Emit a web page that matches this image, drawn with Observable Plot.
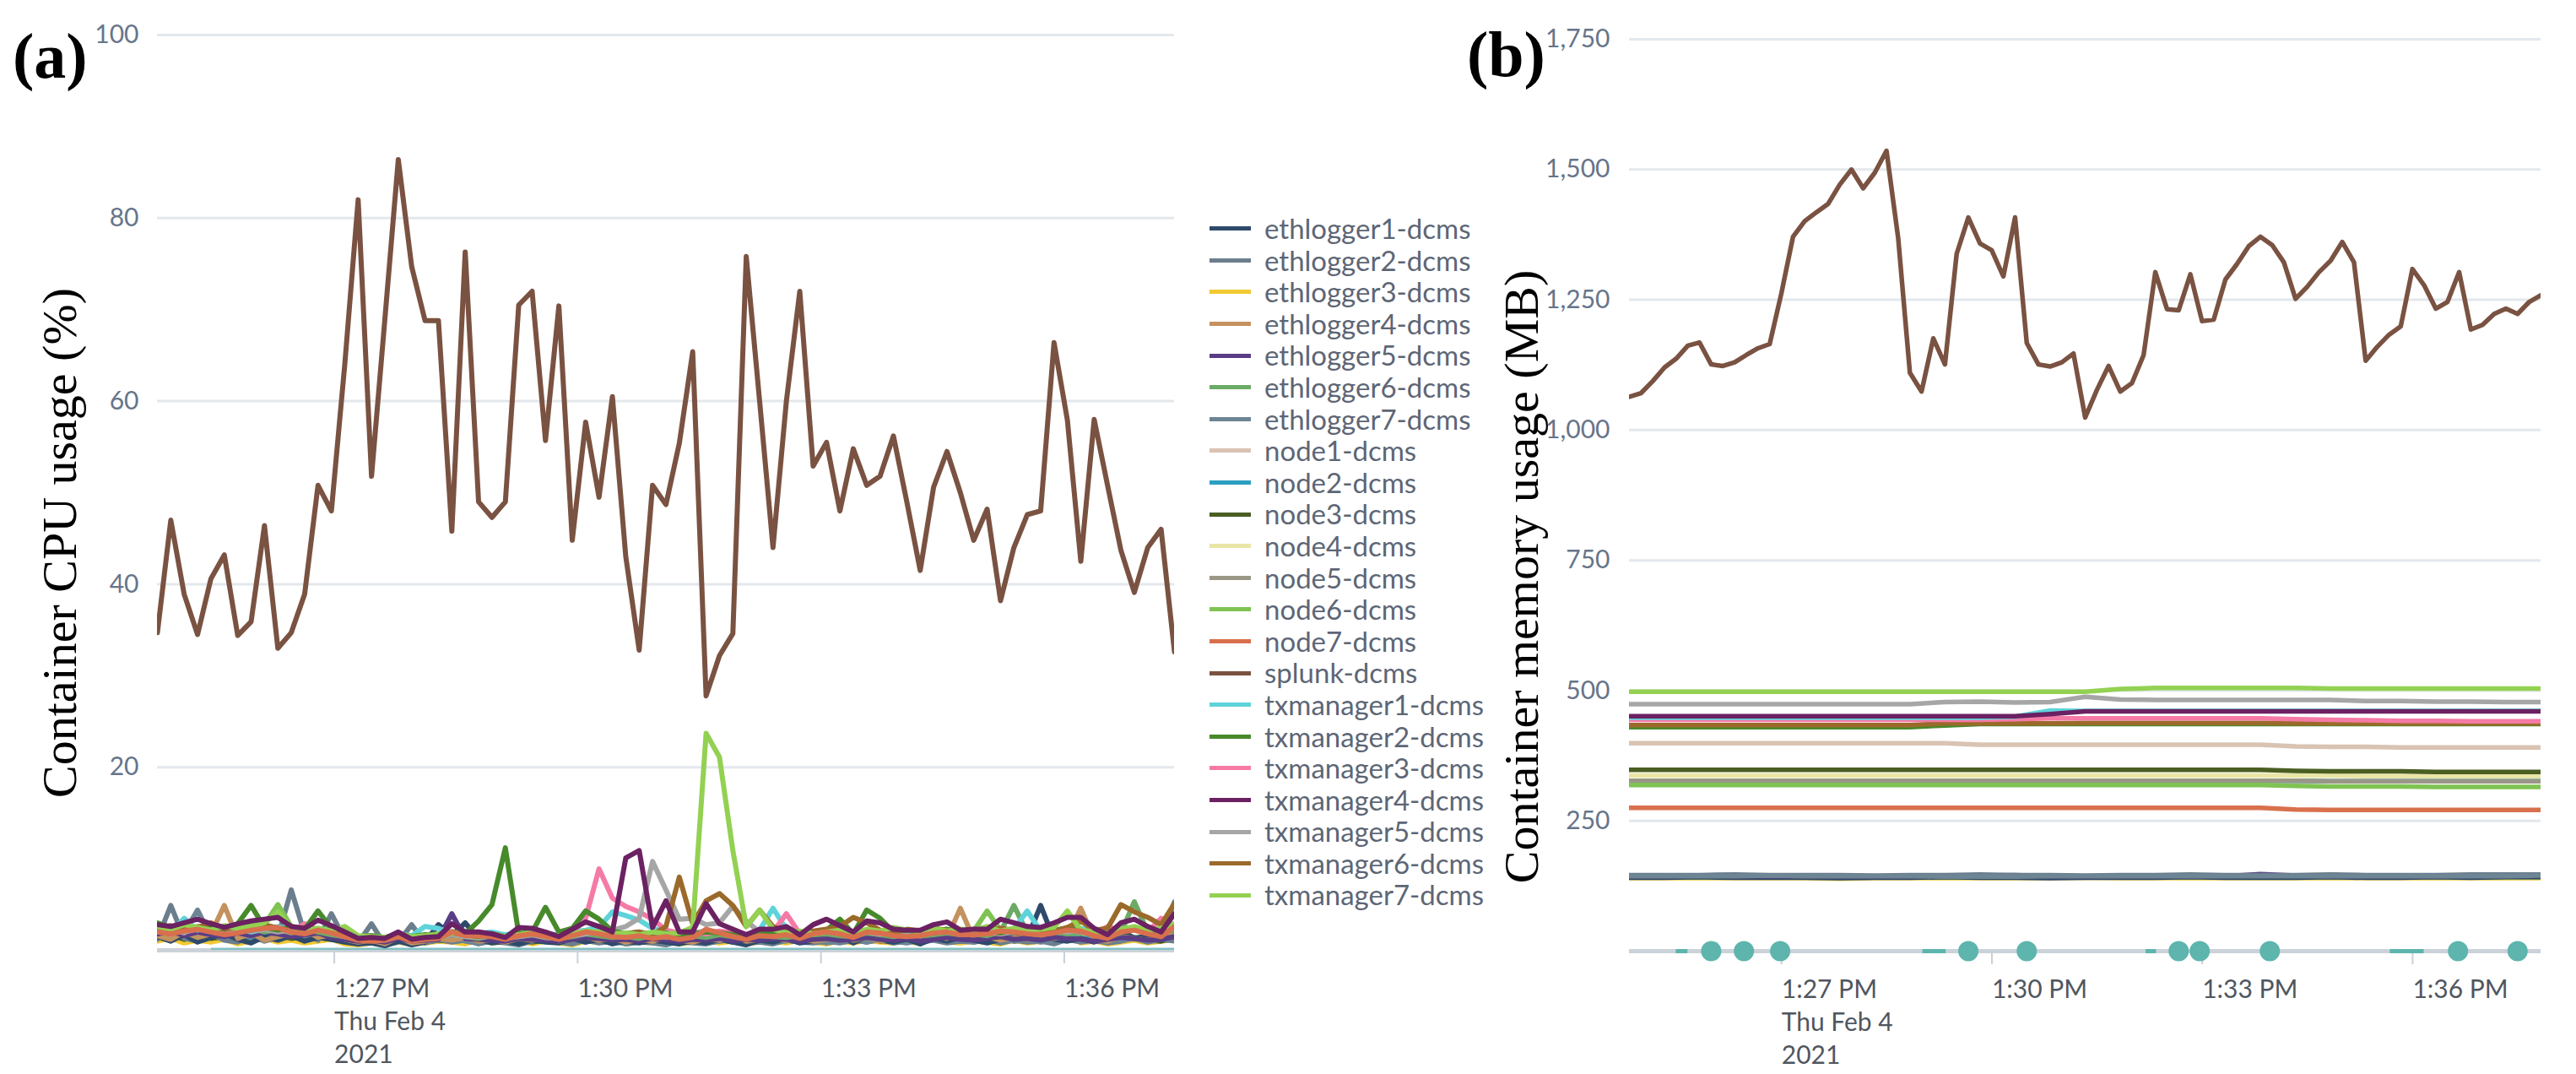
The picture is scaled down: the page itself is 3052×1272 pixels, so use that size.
<!DOCTYPE html>
<html>
<head>
<meta charset="utf-8">
<script src="https://cdn.jsdelivr.net/npm/d3@7"></script>
<script src="https://cdn.jsdelivr.net/npm/@observablehq/plot@0.6"></script>
<style>
html,body{margin:0;padding:0;background:#fff;}
#root{position:relative;width:3052px;height:1272px;overflow:hidden;background:#fff;}
.slot{position:absolute;top:0;}
.ytitle{position:absolute;font-family:"Liberation Serif",serif;font-size:58px;line-height:1;white-space:nowrap;color:#000;transform:translate(-50%,-50%) rotate(-90deg);}
.plabel{position:absolute;font-family:"Liberation Serif",serif;font-weight:bold;font-size:76px;line-height:1;color:#000;}
#legend{position:absolute;left:1433px;top:252px;width:420px;}
.lg-swatches{font-family:Lato,sans-serif !important;font-size:33px !important;color:#5d6675;margin:0 !important;width:420px !important;}
.lg-swatches .lg-swatch{height:37.6px !important;line-height:37.6px !important;padding:0 !important;margin:0 !important;display:flex;align-items:center;overflow:visible !important;}
.lg-swatches .lg-swatch > svg{margin-right:16px !important;flex-shrink:0;}
.lg-swatches .lg-swatch-label{line-height:37.6px !important;overflow:visible !important;text-overflow:clip !important;white-space:nowrap;flex-shrink:0;}
</style>
</head>
<body>
<div id="root">
  <div class="plabel" style="left:15px;top:28px;">(a)</div>
  <div class="plabel" style="left:1738px;top:26px;">(b)</div>
  <div class="ytitle" style="left:71px;top:643px;">Container CPU usage (%)</div>
  <div class="ytitle" style="left:1803px;top:683px;">Container memory usage (MB)</div>
  <div id="plotA" class="slot" style="left:0px;"></div>
  <div id="legend"></div>
  <div id="plotB" class="slot" style="left:1700px;"></div>
</div>
<script>
// ---------- series ----------
const seriesNames = ["ethlogger1-dcms","ethlogger2-dcms","ethlogger3-dcms","ethlogger4-dcms","ethlogger5-dcms","ethlogger6-dcms","ethlogger7-dcms","node1-dcms","node2-dcms","node3-dcms","node4-dcms","node5-dcms","node6-dcms","node7-dcms","splunk-dcms","txmanager1-dcms","txmanager2-dcms","txmanager3-dcms","txmanager4-dcms","txmanager5-dcms","txmanager6-dcms","txmanager7-dcms"];
const seriesColors = ["#2e4a6b","#6b7e8e","#f1c933","#c4925e","#5a3d85","#6cab66","#6d8594","#d9c3b3","#2b9fc1","#4a5e22","#e9e5a6","#9a9787","#7fc353","#d9704d","#7a5242","#5fd3da","#478a2b","#f57aa6","#6b2162","#a6a6a6","#9b6a2a","#93d152"];

// ---------- CPU usage (%), one sample every ~9.9 s from 1:24:51 PM ----------
const cpuStartClock = "13:24:51";
const cpuStepSeconds = 9.9;
const cpu_splunk = [34.7,47.0,38.9,34.5,40.6,43.2,34.4,35.9,46.4,33.0,
 34.7,38.9,50.8,48.0,64,82.0,51.8,69,86.4,74.7,
 68.8,68.8,45.8,76.3,49.0,47.3,49.0,70.5,72.0,55.7,
 70.4,44.8,57.7,49.5,60.5,43,32.8,50.8,48.7,55.4,
 65.4,27.8,32.2,34.6,75.8,60,44.0,60,72.0,52.9,
 55.5,48.0,54.8,50.8,51.8,56.2,49.0,41.5,50.6,54.5,
 50.0,44.8,48.2,38.2,44,47.6,48.0,66.4,57.9,42.5,
 58.0,50.8,43.7,39.1,44.0,46.0,32.6];
const cpu_txmanager4 = [2.8,2.6,3.0,3.4,2.9,2.5,2.9,3.2,3.4,3.6,
 2.6,2.4,3.3,2.7,2.0,1.3,1.4,1.3,2.0,1.2,
 1.4,1.5,2.9,2.0,2.0,1.8,1.4,2.5,2.4,2.0,
 1.5,2.3,3.1,2.6,2.0,10.1,10.9,2.5,5.4,2.0,
 2.0,5.1,2.9,2.3,1.7,2.3,2.3,2.6,1.7,2.8,
 3.4,2.7,2.0,3.2,3.0,2.3,2.2,2.2,2.8,3.1,
 2.2,2.3,2.3,3.4,3.0,2.6,2.5,3.0,3.6,3.6,
 2.4,1.7,3.0,3.4,2.6,2.0,4.0];
const cpu_node7 = [2.0,1.8,2.1,2.3,2.0,1.7,1.9,2.2,2.4,2.5,
 2.0,1.8,2.2,1.9,1.5,1.1,1.0,1.1,1.5,1.0,
 1.2,1.3,2.0,1.6,1.6,1.5,1.2,1.6,1.8,1.5,
 1.2,1.6,2.0,1.8,1.5,1.4,1.6,1.3,1.5,1.2,
 1.4,2.3,1.9,1.5,1.2,1.6,1.5,1.7,1.3,1.8,
 2.0,1.8,1.4,2.0,1.9,1.6,1.5,1.6,1.9,2.0,
 1.7,1.7,1.8,2.1,2.0,1.8,1.7,1.9,2.2,2.1,
 1.6,1.3,2.0,2.2,1.8,1.5,2.6];
const cpu_ethlogger1 = [1.5,1.0,1.7,0.9,1.4,1.8,1.2,0.8,1.5,1.1,
 1.6,1.0,1.4,1.2,0.9,0.7,0.8,0.5,1.0,0.6,
 0.9,2.8,1.6,3.0,1.2,0.8,1.0,0.7,1.1,0.9,
 0.8,1.3,0.9,1.2,0.7,1.0,0.8,1.1,0.9,0.7,
 1.0,0.8,1.2,0.9,0.6,1.1,0.9,1.3,0.8,1.0,
 1.4,1.8,0.8,1.5,1.1,0.9,1.2,0.7,1.3,1.0,
 1.4,1.1,0.8,1.2,1.6,1.3,4.9,1.2,1.0,1.3,
 0.9,1.4,2.2,1.3,1.6,1.1,1.8];
const cpu_ethlogger2 = [1.2,4.9,1.3,1.0,1.8,1.1,0.9,1.6,1.0,1.4,
 6.6,1.8,1.1,4.0,1.2,0.8,2.9,0.6,0.9,2.8,
 0.8,1.2,0.9,1.1,0.7,1.0,0.8,0.6,1.0,1.2,
 0.9,0.7,1.1,0.8,1.0,0.7,0.9,0.8,0.6,1.0,
 0.8,0.7,1.0,1.2,0.8,0.9,0.7,1.1,0.9,0.8,
 1.0,0.8,1.1,0.9,1.2,0.8,1.0,0.9,1.1,0.8,
 1.0,0.9,1.2,0.8,1.1,0.9,1.0,0.7,1.2,0.9,
 1.1,0.8,1.0,1.3,0.9,1.2,1.0];
const cpu_ethlogger3 = [1.0,1.3,0.8,1.1,0.9,1.2,0.7,1.0,1.3,0.9,
 1.1,0.8,1.0,1.2,0.7,0.6,0.8,0.6,0.9,0.7,
 0.8,1.0,0.9,0.7,1.1,0.8,0.9,1.2,0.7,1.0,
 0.8,0.6,1.0,0.9,1.3,0.7,0.9,0.8,1.0,0.7,
 0.9,1.1,0.8,1.0,0.7,0.9,1.0,0.8,1.1,0.9,
 0.7,1.0,0.8,1.1,0.9,0.8,1.0,0.7,2.5,0.9,
 0.8,1.0,0.9,0.7,1.1,0.8,1.0,0.9,2.5,0.8,
 1.0,0.7,0.9,1.1,0.8,1.0,1.2];
const cpu_ethlogger4 = [1.6,1.2,2.0,1.4,1.8,4.9,1.3,1.9,1.1,1.5,
 1.8,2.3,1.4,1.7,1.2,0.9,1.1,0.7,1.4,0.8,
 1.0,1.3,1.1,1.4,1.0,1.2,0.9,1.3,1.1,1.4,
 1.0,1.2,1.5,1.1,1.3,0.9,1.2,1.0,1.4,1.1,
 0.9,1.3,1.1,1.5,1.0,1.2,1.4,1.1,1.3,1.0,
 1.2,1.5,1.1,1.4,1.0,1.3,1.6,1.2,1.5,1.3,
 4.6,1.2,1.5,1.1,1.4,1.2,1.6,1.3,1.5,4.6,
 1.2,1.0,1.5,1.3,1.1,1.4,1.7];
const cpu_ethlogger5 = [1.8,2.1,1.6,2.0,1.7,1.5,1.9,1.6,2.0,1.8,
 1.5,1.7,1.9,1.4,1.2,1.0,1.1,0.9,1.3,1.0,
 1.1,1.2,4.0,1.3,1.2,1.1,1.0,1.3,1.2,1.1,
 1.0,1.2,1.4,1.3,1.1,1.2,1.0,1.3,1.1,1.0,
 1.2,1.1,1.3,1.0,1.2,1.1,1.3,1.2,1.0,1.2,
 1.3,1.1,1.2,1.4,1.2,1.1,1.3,1.0,1.2,1.4,
 1.2,1.1,1.3,1.5,1.2,1.3,1.1,1.4,1.3,1.2,
 1.0,1.2,1.4,1.3,1.1,1.2,1.5];
const cpu_ethlogger6 = [2.4,1.9,2.3,2.6,2.1,1.8,2.2,2.5,2.0,2.3,
 1.9,2.2,2.0,1.7,1.5,1.2,1.3,1.4,1.6,1.3,
 1.5,1.4,1.7,1.5,1.3,1.6,1.4,1.5,1.7,1.4,
 1.3,1.5,1.8,1.6,1.4,1.5,1.3,1.6,1.4,1.5,
 1.6,1.4,1.7,1.5,1.3,1.6,1.5,1.4,1.6,1.7,
 1.8,1.6,1.5,1.9,1.7,1.5,1.8,1.6,1.7,1.9,
 1.7,1.8,1.6,2.0,4.9,1.9,1.7,2.0,1.8,1.9,
 1.7,1.5,1.9,5.3,2.0,1.8,2.3];
const cpu_ethlogger7 = [2.2,1.6,1.9,4.4,1.5,2.0,1.4,1.8,2.1,1.3,
 1.7,1.2,1.5,1.9,1.1,0.9,1.3,0.8,1.0,1.2,
 0.9,1.1,1.4,1.0,0.8,1.2,1.0,0.9,1.3,1.1,
 1.0,1.2,0.9,1.4,1.1,0.8,1.0,1.2,0.9,1.1,
 1.2,0.9,1.0,1.3,1.1,0.9,1.2,1.0,1.4,1.1,
 0.8,1.0,1.3,0.9,1.2,1.0,0.8,1.1,1.3,1.0,
 1.2,0.9,1.1,1.4,1.0,1.2,0.9,1.1,1.3,1.0,
 1.2,1.5,1.1,1.4,1.2,1.6,5.3];
const cpu_node1 = [2.1,2.4,1.9,2.6,2.2,2.0,2.5,2.3,2.1,2.4,
 2.2,2.8,2.0,2.3,1.7,1.4,1.6,1.3,1.8,1.5,
 1.6,1.7,2.1,1.8,1.7,1.6,1.5,1.8,1.9,1.6,
 1.5,1.8,2.0,1.9,1.7,1.6,1.8,1.7,1.9,1.6,
 1.7,1.9,1.8,1.6,1.5,1.8,1.7,1.9,1.6,1.8,
 2.0,1.9,1.7,2.1,1.9,1.8,1.7,1.9,2.0,2.1,
 1.9,1.8,2.0,2.2,2.1,1.9,1.8,2.0,2.2,2.1,
 1.8,1.7,2.1,2.2,1.9,2.3,2.5];
const cpu_node2 = [1.7,1.4,3.3,1.6,1.9,1.5,1.8,1.4,1.7,1.5,
 1.8,1.5,1.7,1.6,1.3,1.1,1.2,1.0,1.3,1.1,
 1.2,1.4,1.3,1.6,1.2,1.4,1.1,1.3,1.5,1.2,
 1.1,1.3,1.5,1.4,1.2,1.3,1.1,1.4,1.2,1.3,
 1.2,1.4,1.3,1.1,1.2,1.4,1.3,1.2,1.4,1.3,
 1.5,1.3,1.2,1.4,1.3,1.5,1.2,1.4,1.3,1.5,
 1.3,1.4,1.5,1.2,1.4,1.6,1.3,1.5,1.4,1.3,
 1.2,1.4,1.6,1.3,1.5,1.4,1.7];
const cpu_node3 = [1.4,1.7,1.2,1.6,1.3,1.5,1.8,1.4,1.2,1.6,
 1.3,1.5,1.4,1.2,1.0,0.8,0.9,0.7,1.0,0.8,
 0.9,1.1,1.0,1.2,0.9,1.1,1.0,1.2,0.9,1.1,
 1.0,1.2,1.1,0.9,1.0,1.1,0.9,1.2,1.0,0.9,
 1.1,1.0,1.2,0.9,1.1,1.0,1.2,1.1,0.9,1.0,
 1.2,1.1,0.9,1.3,1.0,1.2,1.1,0.9,1.2,1.1,
 1.0,1.2,1.1,1.3,1.0,1.2,1.1,1.3,1.2,1.0,
 1.1,0.9,1.2,1.4,1.1,1.0,1.3];
const cpu_node4 = [1.9,1.6,2.2,1.8,2.0,1.7,2.1,1.9,1.6,2.0,
 1.8,1.6,1.9,1.7,1.4,1.2,1.3,1.1,1.4,1.2,
 1.3,1.5,1.4,1.6,1.3,1.5,1.2,1.4,1.6,1.3,
 1.2,1.4,1.6,1.5,1.3,1.4,1.2,1.5,1.3,1.4,
 1.3,1.5,1.4,1.2,1.3,1.5,1.4,1.3,1.5,1.4,
 1.6,1.4,1.3,1.5,1.4,1.6,1.3,1.5,1.4,1.6,
 1.4,1.5,1.6,1.3,1.5,1.7,1.4,1.6,1.5,1.4,
 1.3,1.5,1.7,1.4,1.6,1.5,1.8];
const cpu_node5 = [1.6,2.0,1.7,2.3,1.8,1.6,2.0,1.7,1.9,2.1,
 1.7,1.9,1.6,1.8,1.3,1.0,1.2,0.9,1.3,1.0,
 1.1,1.3,1.2,1.4,1.1,1.3,1.0,1.2,1.4,1.1,
 1.0,1.2,1.4,1.3,1.1,1.2,1.0,1.3,1.1,1.2,
 1.1,1.3,1.2,1.0,1.1,1.3,1.2,1.1,1.3,1.2,
 1.4,1.2,1.1,1.3,1.2,1.4,1.1,1.3,1.2,1.4,
 1.2,1.3,1.4,1.1,1.3,1.5,1.2,1.4,1.3,1.2,
 1.1,1.3,1.5,1.2,1.4,1.3,1.6];
const cpu_node6 = [2.5,2.2,2.7,2.4,2.9,2.3,2.6,3.0,2.8,5.0,
 2.6,2.3,2.1,2.5,1.8,1.5,1.6,1.4,1.7,1.5,
 1.6,1.8,1.7,1.9,1.6,1.8,1.5,1.7,2.0,1.8,
 1.6,1.9,2.1,2.0,1.8,1.7,1.9,1.8,2.0,1.7,
 1.8,2.0,1.9,1.7,1.6,1.9,1.8,2.0,1.7,1.9,
 2.1,2.0,1.8,2.2,2.0,1.9,2.1,1.8,2.0,2.2,
 2.0,2.1,4.3,2.2,2.0,2.3,2.1,2.2,2.4,2.1,
 1.9,1.8,2.2,2.4,2.1,2.3,2.6];
const cpu_txmanager1 = [2.3,2.0,3.5,2.2,2.5,2.1,2.4,2.0,2.3,2.6,
 2.2,2.0,2.4,2.1,1.7,1.4,1.5,1.3,1.8,1.6,
 2.6,2.4,1.9,2.1,1.8,2.0,1.7,1.9,2.1,1.8,
 1.7,2.0,2.2,2.5,4.2,3.8,3.3,2.4,2.0,1.8,
 1.9,2.1,2.0,1.8,1.7,2.2,4.6,2.3,1.9,2.0,
 2.2,2.0,1.8,2.1,1.9,2.2,2.0,1.8,2.1,2.3,
 2.0,2.2,2.1,1.9,2.3,4.3,2.1,2.0,2.2,2.4,
 2.1,1.9,2.3,2.5,2.2,2.4,2.8];
const cpu_txmanager2 = [3.0,2.5,2.8,2.4,2.7,2.3,2.9,4.9,2.5,2.2,
 2.6,2.3,4.3,2.4,1.9,1.5,1.6,1.4,1.8,1.5,
 1.7,1.6,2.0,1.8,3.2,5.0,11.2,1.8,2.0,4.7,
 2.0,2.4,4.3,3.4,2.1,1.8,2.0,1.7,1.9,1.6,
 1.8,2.0,1.9,1.7,1.6,2.0,1.8,2.1,1.7,1.9,
 2.2,3.4,1.8,4.4,3.5,2.0,2.2,1.9,2.1,2.3,
 2.0,2.2,2.1,1.9,2.3,2.1,2.0,2.2,2.4,2.1,
 1.9,1.7,2.2,2.5,2.1,2.3,2.7];
const cpu_txmanager3 = [2.2,2.5,2.0,2.3,2.8,2.1,2.4,2.2,2.6,2.3,
 2.0,2.9,2.2,2.0,1.6,1.3,1.4,1.2,1.6,1.3,
 1.5,1.4,1.8,1.6,1.5,1.7,1.4,1.6,1.8,1.5,
 1.4,1.9,3.5,8.9,5.7,4.8,4.2,3.4,2.2,1.9,
 2.0,1.8,2.1,1.9,1.7,2.2,2.0,4.0,1.8,1.9,
 2.1,1.9,1.7,2.0,1.8,2.1,1.9,1.7,2.0,2.2,
 1.9,2.1,2.0,1.8,2.2,2.0,1.9,2.1,2.3,2.0,
 1.8,2.6,2.1,2.3,2.0,3.5,2.7];
const cpu_txmanager5 = [2.0,2.3,1.9,2.6,2.2,1.9,2.4,2.1,2.3,2.0,
 2.2,2.0,2.3,1.9,1.5,1.2,1.3,1.1,1.5,1.2,
 1.4,1.5,1.7,1.5,1.4,1.6,1.3,1.5,1.7,1.4,
 1.3,1.6,1.8,2.0,2.2,2.6,3.5,9.7,6.6,3.4,
 3.5,2.8,3.0,4.8,3.2,2.0,1.8,2.0,1.7,1.9,
 2.0,1.8,1.7,2.0,1.9,2.1,1.8,1.7,2.0,2.1,
 1.9,2.0,2.1,1.8,2.0,2.2,1.9,2.1,2.0,2.2,
 1.9,1.7,2.1,2.3,2.0,2.2,2.6];
const cpu_txmanager6 = [2.4,2.7,2.2,2.5,3.0,2.3,2.6,2.2,2.8,2.4,
 2.1,2.5,2.3,2.0,1.7,1.4,1.5,1.3,1.7,1.4,
 1.6,1.5,1.9,1.7,1.5,1.8,1.5,1.7,1.9,1.6,
 1.5,1.8,2.0,1.9,1.7,1.8,2.0,1.7,2.6,8.0,
 2.9,5.4,6.2,4.9,2.6,4.4,2.6,2.0,1.8,2.1,
 2.3,2.6,3.6,3.0,2.2,2.0,2.3,2.1,2.4,2.2,
 2.0,2.3,2.1,2.4,2.2,2.0,2.3,2.1,2.5,3.2,
 2.2,2.4,5.0,4.2,3.6,2.8,5.1];
const cpu_txmanager7 = [2.6,2.3,2.8,2.5,2.2,2.7,2.4,2.6,3.0,4.2,
 2.5,2.2,2.4,2.1,2.6,1.6,1.5,1.4,1.8,1.5,
 1.6,1.7,1.9,1.8,1.6,1.8,1.5,1.7,2.0,1.7,
 1.6,1.8,2.1,2.0,1.8,1.9,1.7,2.0,1.8,1.9,
 2.5,23.7,21.1,10.9,2.6,4.4,2.3,1.9,2.1,1.8,
 2.0,2.2,1.9,2.3,2.1,2.5,2.2,2.0,2.4,2.1,
 2.3,2.2,2.6,2.1,2.4,2.2,2.3,2.5,4.3,2.2,
 2.0,1.8,2.3,2.6,2.2,2.4,2.9];

// ---------- Memory usage (MB) ----------
const memStartClock = "13:24:52";
const memSplunkStepSeconds = 10;   // splunk sampled every 10 s
const memOtherStepSeconds = 30;    // flat series sampled every 30 s
const mem_splunk = [1064,1071,1094,1120,1137,1162,1168,1126,1123,1130,
 1144,1157,1165,1262,1371,1401,1418,1434,1471,1500,
 1464,1494,1536,1368,1110,1074,1176,1126,1338,1408,
 1358,1345,1295,1408,1167,1126,1122,1130,1147,1024,
 1077,1123,1074,1090,1144,1303,1232,1230,1299,1209,
 1212,1289,1319,1353,1371,1355,1322,1252,1275,1303,
 1325,1361,1322,1133,1160,1183,1199,1309,1278,1233,
 1246,1303,1193,1202,1223,1233,1223,1246,1259];
const mem_txmanager7 = [498,498,498,498,498,498,498,498,498,498,498,498,498,498,503,505,505,505,505,505,504,504,504,504,504,504,504];
const mem_txmanager5 = [474,474,474,474,474,474,474,474,474,478,479,477,478,488,483,482,482,482,482,482,482,480,480,479,479,478,478];
const mem_txmanager4 = [451,451,451,451,451,451,451,451,451,451,451,451,455,460,460,460,460,460,460,460,460,460,460,460,460,460,460];
const mem_txmanager1 = [448,448,448,448,448,448,448,448,448,448,448,450,462,461,461,461,461,461,461,461,461,461,461,461,461,461,461];
const mem_txmanager3 = [444,444,444,444,444,444,444,444,444,444,444,445,447,447,447,447,447,447,447,445,444,443,442,442,441,441,441];
const mem_txmanager6 = [434,434,434,434,434,434,434,434,434,437,437,437,437,438,438,438,438,438,438,437,437,437,437,437,437,437,437];
const mem_txmanager2 = [430,430,430,430,430,430,430,430,430,433,436,436,436,436,436,436,436,436,436,436,436,436,436,436,436,436,436];
const mem_node1 = [399,399,399,399,399,399,399,399,399,399,396,396,396,396,396,396,396,396,396,393,392,392,391,391,391,391,391];
const mem_node3 = [348,348,348,348,348,348,348,348,348,348,348,348,348,348,348,348,348,348,348,346,345,345,345,344,344,344,344];
const mem_node4 = [337,337,337,337,337,337,337,337,337,337,337,337,337,337,337,337,337,337,337,337,337,336,336,336,336,336,336];
const mem_node5 = [327,327,327,327,327,327,327,327,327,327,327,327,327,327,327,327,327,327,327,327,326,326,326,326,326,326,326];
const mem_node2 = [327,327,327,327,327,327,327,327,327,327,327,327,327,327,327,327,327,327,327,327,326,326,326,326,326,326,326];
const mem_node6 = [319,319,319,319,319,319,319,319,319,319,319,319,319,319,319,319,319,319,319,317,316,316,316,315,315,315,315];
const mem_node7 = [275,275,275,275,275,275,275,275,275,275,275,275,275,275,275,275,275,275,275,272,271,271,271,271,271,271,271];
const mem_ethlogger1 = [141,141,142,141,141,141,140,141,141,142,141,141,140,141,141,141,142,141,141,141,142,141,141,142,141,142,142];
const mem_ethlogger2 = [146,146,146,147,146,146,146,145,146,146,147,146,146,145,146,146,147,146,146,146,147,146,146,146,147,147,147];
const mem_ethlogger3 = [140,140,140,140,140,140,139,140,140,140,140,140,140,141,140,140,140,140,140,140,140,140,140,140,140,140,140];
const mem_ethlogger4 = [143,143,143,143,143,143,143,143,143,144,143,143,143,143,143,143,143,143,143,143,143,143,143,143,143,143,143];
const mem_ethlogger5 = [144,144,145,144,144,144,144,144,144,144,145,146,144,144,144,144,144,144,148,145,144,144,144,144,145,146,147];
const mem_ethlogger6 = [142,142,142,142,142,142,142,142,142,142,142,142,142,142,142,142,142,142,142,142,142,142,142,142,142,142,142];
const mem_ethlogger7 = [144,144,144,144,145,144,144,144,144,143,143,143,144,144,144,144,144,144,144,144,144,144,144,144,144,144,145];

// ---------- axes / annotations ----------
const timeTicks = ["13:27:00","13:30:00","13:33:00","13:36:00"];
const cpuTicks = [20,40,60,80,100];
const memTicks = [250,500,750,1000,1250,1500,1750];
const cpuEventRanges = [{start:"13:25:31", end:"13:37:24"}];
const memEventDots = ["13:26:02","13:26:30","13:27:01","13:29:42","13:30:32","13:32:42","13:33:00","13:34:00","13:36:41","13:37:32"];
const memEventRanges = [{start:"13:25:32", end:"13:25:42"},{start:"13:29:03", end:"13:29:23"},{start:"13:32:14", end:"13:32:23"},{start:"13:35:43", end:"13:36:12"}];

// ---------- build tables ----------
const T = s => { const [h,m,sec] = s.split(":").map(Number); return new Date(Date.UTC(2021,1,4,h,m,sec)); };
const cpuStart = T(cpuStartClock);
const memStart = T(memStartClock);

const cpuTable = {
  "ethlogger1-dcms":cpu_ethlogger1,"ethlogger2-dcms":cpu_ethlogger2,"ethlogger3-dcms":cpu_ethlogger3,"ethlogger4-dcms":cpu_ethlogger4,
  "ethlogger5-dcms":cpu_ethlogger5,"ethlogger6-dcms":cpu_ethlogger6,"ethlogger7-dcms":cpu_ethlogger7,
  "node1-dcms":cpu_node1,"node2-dcms":cpu_node2,"node3-dcms":cpu_node3,"node4-dcms":cpu_node4,"node5-dcms":cpu_node5,"node6-dcms":cpu_node6,"node7-dcms":cpu_node7,
  "splunk-dcms":cpu_splunk,
  "txmanager1-dcms":cpu_txmanager1,"txmanager2-dcms":cpu_txmanager2,"txmanager3-dcms":cpu_txmanager3,"txmanager4-dcms":cpu_txmanager4,
  "txmanager5-dcms":cpu_txmanager5,"txmanager6-dcms":cpu_txmanager6,"txmanager7-dcms":cpu_txmanager7
};
const memTable = {
  "ethlogger1-dcms":mem_ethlogger1,"ethlogger2-dcms":mem_ethlogger2,"ethlogger3-dcms":mem_ethlogger3,"ethlogger4-dcms":mem_ethlogger4,
  "ethlogger5-dcms":mem_ethlogger5,"ethlogger6-dcms":mem_ethlogger6,"ethlogger7-dcms":mem_ethlogger7,
  "node1-dcms":mem_node1,"node2-dcms":mem_node2,"node3-dcms":mem_node3,"node4-dcms":mem_node4,"node5-dcms":mem_node5,"node6-dcms":mem_node6,"node7-dcms":mem_node7,
  "splunk-dcms":mem_splunk,
  "txmanager1-dcms":mem_txmanager1,"txmanager2-dcms":mem_txmanager2,"txmanager3-dcms":mem_txmanager3,"txmanager4-dcms":mem_txmanager4,
  "txmanager5-dcms":mem_txmanager5,"txmanager6-dcms":mem_txmanager6,"txmanager7-dcms":mem_txmanager7
};
const cpuOrder = ["ethlogger3-dcms","node4-dcms","node1-dcms","node5-dcms","node3-dcms","node2-dcms","ethlogger2-dcms","ethlogger7-dcms","ethlogger1-dcms","ethlogger4-dcms","ethlogger5-dcms","ethlogger6-dcms","node6-dcms","txmanager1-dcms","txmanager3-dcms","txmanager5-dcms","txmanager2-dcms","txmanager6-dcms","txmanager7-dcms","node7-dcms","txmanager4-dcms","splunk-dcms"];
const memOrder = ["ethlogger3-dcms","ethlogger4-dcms","ethlogger6-dcms","ethlogger1-dcms","ethlogger5-dcms","ethlogger2-dcms","ethlogger7-dcms","node2-dcms","node5-dcms","node4-dcms","node6-dcms","node3-dcms","node1-dcms","node7-dcms","txmanager2-dcms","txmanager6-dcms","txmanager3-dcms","txmanager1-dcms","txmanager5-dcms","txmanager4-dcms","txmanager7-dcms","splunk-dcms"];

const cpuRows = [];
for (const name of cpuOrder) cpuTable[name].forEach((v, i) => cpuRows.push({series: name, time: new Date(+cpuStart + i * cpuStepSeconds * 1000), value: v}));
const memRows = [];
for (const name of memOrder) {
  const step = name === "splunk-dcms" ? memSplunkStepSeconds : memOtherStepSeconds;
  memTable[name].forEach((v, i) => memRows.push({series: name, time: new Date(+memStart + i * step * 1000), value: v}));
}
const cpuEnd = new Date(+cpuStart + (cpu_splunk.length - 1) * cpuStepSeconds * 1000);
const memEnd = new Date(+memStart + (mem_splunk.length - 1) * memSplunkStepSeconds * 1000);

const tickDates = timeTicks.map(T);
const fmtTick = d => {
  const h = d.getUTCHours(), m = d.getUTCMinutes();
  const s = `${h > 12 ? h - 12 : h}:${String(m).padStart(2, "0")} PM`;
  return (h === 13 && m === 27) ? s + "\nThu Feb 4\n2021" : s;
};
const colorScale = {type: "ordinal", domain: seriesNames, range: seriesColors};
const gridStyle = {stroke: "#e3e8ed", strokeOpacity: 1, strokeWidth: 3};
const yAxisStyle = {tickSize: 0, fill: "#66758a", fontSize: 30, fontFamily: "Lato, sans-serif", label: null};
const xAxisStyle = {ticks: tickDates, tickSize: 16, tickPadding: 12, stroke: "#c9d0d8", strokeWidth: 2, fill: "#50565e",
  textAnchor: "start", dx: 3, lineHeight: 1.3, fontSize: 30, fontFamily: "Lato, sans-serif", tickFormat: fmtTick, label: null};

const plotA = Plot.plot({
  width: 1420, height: 1272,
  marginLeft: 186, marginRight: 29, marginTop: 41, marginBottom: 147,
  style: {fontFamily: "Lato, sans-serif", fontSize: "30px", background: "transparent", overflow: "visible"},
  x: {type: "utc", domain: [cpuStart, cpuEnd], label: null},
  y: {domain: [0, 100], label: null},
  color: colorScale,
  marks: [
    Plot.gridY(cpuTicks, gridStyle),
    Plot.axisY(cpuTicks, {...yAxisStyle, tickPadding: 22}),
    Plot.ruleY([0], {stroke: "#cbd2d9", strokeWidth: 5}),
    Plot.ruleY(cpuEventRanges, {y: () => 0, x1: d => T(d.start), x2: d => T(d.end), stroke: "#7fc0c1", strokeWidth: 6, clip: true}),
    Plot.axisX(xAxisStyle),
    Plot.line(cpuRows, {x: "time", y: "value", z: "series", stroke: "series", strokeWidth: 6, clip: true})
  ]
});
document.getElementById("plotA").appendChild(plotA);

const plotB = Plot.plot({
  width: 1352, height: 1272,
  marginLeft: 230, marginRight: 42, marginTop: 46, marginBottom: 146,
  style: {fontFamily: "Lato, sans-serif", fontSize: "30px", background: "transparent", overflow: "visible"},
  x: {type: "utc", domain: [memStart, memEnd], label: null},
  y: {domain: [0, 1750], label: null},
  color: colorScale,
  marks: [
    Plot.gridY(memTicks, gridStyle),
    Plot.axisY(memTicks, {...yAxisStyle, tickPadding: 23}),
    Plot.ruleY([0], {stroke: "#cbd2d9", strokeWidth: 5}),
    Plot.axisX(xAxisStyle),
    Plot.line(memRows, {x: "time", y: "value", z: "series", stroke: "series", strokeWidth: 5.5, clip: true}),
    Plot.ruleY(memEventRanges, {y: () => 0, x1: d => T(d.start), x2: d => T(d.end), stroke: "#5db5ad", strokeWidth: 5}),
    Plot.dot(memEventDots, {x: d => T(d), y: () => 0, r: 12, fill: "#5db5ad", stroke: "none"})
  ]
});
document.getElementById("plotB").appendChild(plotB);

const legend = Plot.legend({color: colorScale, legend: "swatches", columns: 1, swatchWidth: 49, swatchHeight: 5, className: "lg"});
document.getElementById("legend").appendChild(legend);
</script>
</body>
</html>
